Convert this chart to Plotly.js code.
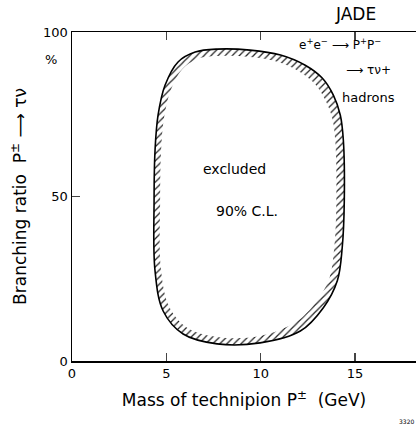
<!DOCTYPE html>
<html><head><meta charset="utf-8">
<script src="https://cdn.plot.ly/plotly-3.0.1.min.js"></script>
<style>body{margin:0;background:#fff}#c{width:416px;height:424px}</style>
</head><body><div id="c"></div>
<script>
// Outer boundary of the excluded region (mass GeV, branching ratio %)
var outerMass = [7.69, 9.44, 11.05, 12.36, 13.26, 13.85, 14.22, 14.38, 14.43, 14.32, 14.06, 13.32, 12.10, 9.97, 7.69, 5.89, 4.83, 4.40, 4.35, 4.40, 4.56, 4.93, 5.62, 6.53, 7.69];
var outerBR   = [94.8, 94.5, 93.0, 89.9, 86.0, 80.8, 74.7, 67.1, 48.8, 34.5, 24.4, 16.2, 9.1, 5.5, 5.2, 8.2, 15.2, 27.4, 48.8, 64.0, 74.7, 83.8, 90.9, 93.9, 94.8];
// Inner edge of the hatched band
var innerMass = [7.69, 9.44, 10.93, 12.10, 12.89, 13.42, 13.79, 13.95, 14.01, 13.90, 13.63, 12.94, 11.88, 9.97, 7.69, 6.10, 5.15, 4.72, 4.67, 4.72, 4.88, 5.25, 5.84, 6.63, 7.69];
var innerBR   = [92.7, 92.4, 90.9, 87.8, 84.1, 79.3, 73.8, 67.1, 48.8, 34.5, 25.0, 18.0, 11.9, 7.6, 7.3, 10.1, 16.5, 27.4, 48.8, 64.0, 74.1, 82.6, 88.7, 91.8, 92.7];
var xTicks = [0, 5, 10, 15];
var xTickLabels = ['0', '5', '10', '15'];
var yTicks = [0, 50, 100];
var yTickLabels = ['0', '50', '100'];

var font = 'DejaVu Sans, Arial, sans-serif';
var traces = [
  {x: outerMass, y: outerBR, mode: 'lines', fill: 'toself', fillcolor: 'rgba(0,0,0,0)',
   fillpattern: {shape: '/', fgcolor: '#222', bgcolor: '#fff', size: 5, solidity: 0.25},
   line: {color: '#000', width: 1.6, shape: 'spline', smoothing: 1.0}, hoverinfo: 'skip', showlegend: false},
  {x: innerMass, y: innerBR, mode: 'lines', fill: 'toself', fillcolor: '#fff',
   line: {color: '#fff', width: 0, shape: 'spline', smoothing: 1.0}, hoverinfo: 'skip', showlegend: false}
];
var layout = {
  width: 416, height: 424,
  margin: {l: 72, r: 0, t: 32, b: 63},
  paper_bgcolor: '#fff', plot_bgcolor: '#fff',
  font: {family: font, color: '#000', size: 12},
  showlegend: false,
  xaxis: {range: [0, 18.23], tickvals: xTicks, ticktext: xTickLabels, ticks: 'inside', ticklen: 8,
          tickwidth: 1.3, showline: true, linewidth: 1.5, linecolor: '#000', mirror: 'allticks',
          showgrid: false, zeroline: false, tickfont: {size: 13, family: font},
          title: {text: 'Mass of technipion P<sup>±</sup>  (GeV)', font: {size: 17, family: font}, standoff: 14}},
  yaxis: {range: [0, 100], tickvals: yTicks, ticktext: yTickLabels, ticks: 'inside', ticklen: 8,
          tickwidth: 1.3, showline: true, linewidth: 1.5, linecolor: '#000', mirror: false,
          showgrid: false, zeroline: false, tickfont: {size: 13, family: font},
          title: {text: 'Branching ratio  P<sup>±</sup> ⟶ τν', font: {size: 17, family: font}, standoff: 12}},
  annotations: [
    {xref: 'paper', yref: 'paper', x: 0.825, y: 1.055, text: 'JADE', showarrow: false, xanchor: 'center', yanchor: 'middle', font: {size: 17, family: font}},
    {xref: 'paper', yref: 'paper', x: -0.06, y: 0.915, text: '%', showarrow: false, xanchor: 'center', yanchor: 'middle', font: {size: 13, family: font}},
    {xref: 'paper', yref: 'paper', x: 0.655, y: 0.965, text: 'e<sup>+</sup>e<sup>−</sup> ⟶ P<sup>+</sup>P<sup>−</sup>', showarrow: false, xanchor: 'left', yanchor: 'middle', font: {size: 12, family: font}},
    {xref: 'paper', yref: 'paper', x: 0.79, y: 0.885, text: '⟶ τν+', showarrow: false, xanchor: 'left', yanchor: 'middle', font: {size: 12, family: font}},
    {xref: 'paper', yref: 'paper', x: 0.78, y: 0.80, text: 'hadrons', showarrow: false, xanchor: 'left', yanchor: 'middle', font: {size: 13, family: font}},
    {x: 8.6, y: 58.5, text: 'excluded', showarrow: false, xanchor: 'center', yanchor: 'middle', font: {size: 14, family: font}},
    {x: 9.3, y: 45.5, text: '90% C.L.', showarrow: false, xanchor: 'center', yanchor: 'middle', font: {size: 14, family: font}},
    {xref: 'paper', yref: 'paper', x: 1.0, y: -0.185, text: '3320', showarrow: false, xanchor: 'right', yanchor: 'middle', font: {size: 6, family: font}}
  ]
};
Plotly.newPlot('c', traces, layout, {staticPlot: true, displayModeBar: false});
</script></body></html>
